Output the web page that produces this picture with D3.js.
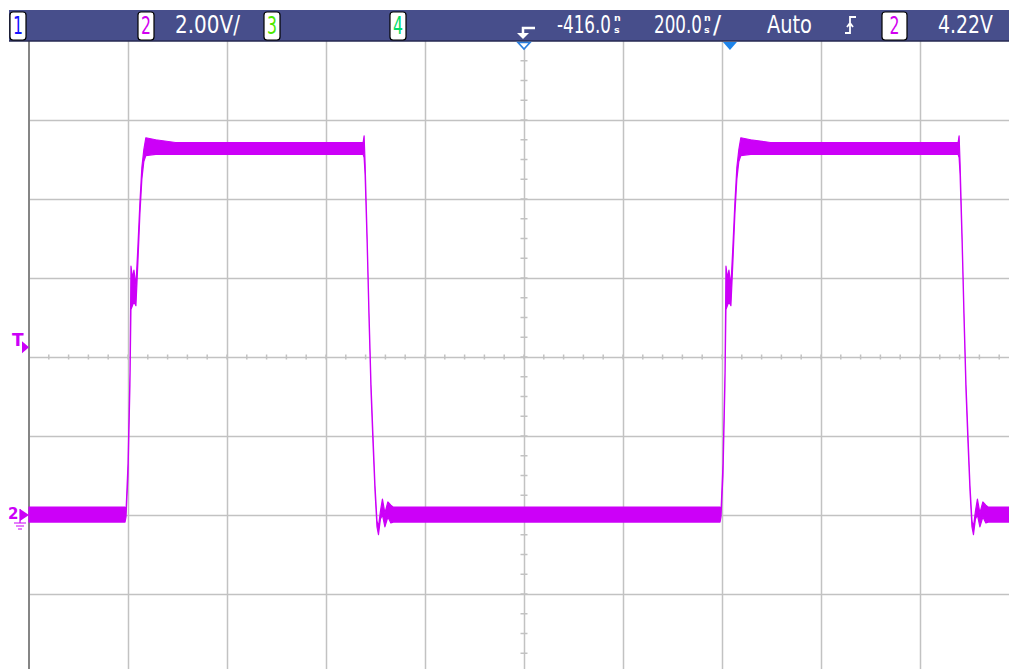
<!DOCTYPE html>
<html>
<head>
<meta charset="utf-8">
<script src="https://cdn.jsdelivr.net/npm/d3@7"></script>
<style>
  html, body { margin: 0; padding: 0; background: #ffffff; }
  svg { display: block; }
</style>
</head>
<body>
<svg id="scope" width="1009" height="669"></svg>
<script>
// ---- Acquisition settings ----
const timePerDiv = 200;      // ns / div
const timeOffset = -416;     // ns at screen centre
const voltsPerDiv = 2;       // V / div
const trigLevel = 4.22;      // V
const hDivs = 10, vDivs = 8;

// ---- Status bar labels ----
const channelLabels = ["1", "2", "3", "4"];
const channelColors = ["#1414ff", "#d200f0", "#4ee800", "#00dc6a"];
const scaleLabel = "2.00V/";
const delayLabel = "-416.0";
const timebaseLabel = "200.0";
const modeLabel = "Auto";
const trigSourceLabel = "2";
const trigLevelLabel = "4.22V";

// ---- Channel 2 trace: time (ns), envelope min / max (V) ----
const traceTime = [
  -1416, -1222, -1220, -1216, -1212, -1210, -1207, -1204, -1200, -1196,
  -1192, -1188, -1184, -1180, -1160, -1120, -741, -739, -737, -733,
  -729, -725, -721, -717, -713, -710, -706, -702, -697, -691,
  -685, -680, -20, -18, -14, -10, -8, -5, -2, 2,
  6, 10, 14, 18, 22, 42, 82, 461, 463, 465,
  469, 473, 477, 481, 485, 489, 492, 496, 500, 505,
  511, 517, 522, 584
];
const traceMin = [
  -0.18, -0.18, -0.05, 1.0, 3.3, 5.2, 5.3, 5.4, 5.3, 6.4,
  7.6, 8.5, 8.95, 9.1, 9.13, 9.13, 9.13, 9.05, 8.6, 6.9,
  4.9, 3.1, 1.8, 0.6, -0.3, -0.5, -0.1, 0.0, -0.3, -0.05,
  -0.2, -0.18, -0.18, -0.05, 1.0, 3.3, 5.2, 5.3, 5.4, 5.3,
  6.4, 7.6, 8.5, 8.95, 9.1, 9.13, 9.13, 9.13, 9.05, 8.6,
  6.9, 4.9, 3.1, 1.8, 0.6, -0.3, -0.5, -0.1, 0.0, -0.3,
  -0.05, -0.2, -0.18, -0.18
];
const traceMax = [
  0.2, 0.2, 0.1, 1.3, 3.6, 6.3, 6.0, 6.2, 5.8, 6.8,
  7.9, 8.8, 9.25, 9.55, 9.5, 9.43, 9.43, 9.6, 8.9, 7.1,
  5.1, 3.3, 2.0, 0.75, -0.15, -0.3, 0.1, 0.4, 0.05, 0.33,
  0.25, 0.2, 0.2, 0.1, 1.3, 3.6, 6.3, 6.0, 6.2, 5.8,
  6.8, 7.9, 8.8, 9.25, 9.55, 9.5, 9.43, 9.43, 9.6, 8.9,
  7.1, 5.1, 3.3, 2.0, 0.75, -0.15, -0.3, 0.1, 0.4, 0.05,
  0.33, 0.25, 0.2, 0.2
];

// ---- Layout ----
const plot = { left: 29, top: 41, width: 990, height: 632 };
const svg = d3.select("#scope");

const tStart = timeOffset - timePerDiv * hDivs / 2;
const tEnd = timeOffset + timePerDiv * hDivs / 2;
const vBottom = -voltsPerDiv * 2;
const vTop = vBottom + voltsPerDiv * vDivs;

const x = d3.scaleLinear().domain([tStart, tEnd]).range([plot.left, plot.left + plot.width]);
const y = d3.scaleLinear().domain([vBottom, vTop]).range([plot.top + plot.height, plot.top]);

const gridColor = "#c2c2c2";
const traceColor = "#cc00f8";

// ---- Graticule ----
const xGrid = d3.range(1, hDivs).map(i => tStart + i * timePerDiv);
const yGrid = d3.range(1, vDivs).map(i => vBottom + i * voltsPerDiv);

svg.append("g")
  .attr("transform", `translate(0,${plot.top + plot.height})`)
  .call(d3.axisBottom(x).tickValues(xGrid).tickSize(plot.height).tickFormat(""))
  .call(g => g.select(".domain").remove())
  .call(g => g.selectAll("line").attr("y2", -plot.height).attr("stroke", gridColor).attr("stroke-width", 1.5));

svg.append("g")
  .attr("transform", `translate(${plot.left},0)`)
  .call(d3.axisLeft(y).tickValues(yGrid).tickSize(-plot.width).tickFormat(""))
  .call(g => g.select(".domain").remove())
  .call(g => g.selectAll("line").attr("stroke", gridColor).attr("stroke-width", 1.5));

// minor ticks along the centre lines
const xc = x(timeOffset), yc = y(vBottom + voltsPerDiv * vDivs / 2);
const xMinor = d3.range(0, hDivs * 5 + 1).map(i => tStart + i * timePerDiv / 5);
const yMinor = d3.range(0, vDivs * 4 + 1).map(i => vBottom + i * voltsPerDiv / 4);
svg.append("g").selectAll("line").data(xMinor).join("line")
  .attr("x1", d => x(d)).attr("x2", d => x(d))
  .attr("y1", yc - 2.5).attr("y2", yc + 2.5)
  .attr("stroke", gridColor).attr("stroke-width", 1.5);
svg.append("g").selectAll("line").data(yMinor).join("line")
  .attr("y1", d => y(d)).attr("y2", d => y(d))
  .attr("x1", xc - 3.5).attr("x2", xc + 3.5)
  .attr("stroke", gridColor).attr("stroke-width", 1.5);

// left border of the graticule
svg.append("line")
  .attr("x1", plot.left).attr("x2", plot.left)
  .attr("y1", plot.top).attr("y2", plot.top + plot.height)
  .attr("stroke", "#858585").attr("stroke-width", 2);

// ---- Trace ----
const trace = traceTime.map((t, i) => ({ t, lo: traceMin[i], hi: traceMax[i] }));
const area = d3.area().x(d => x(d.t)).y0(d => y(d.lo)).y1(d => y(d.hi));
svg.append("path")
  .datum(trace)
  .attr("d", area)
  .attr("fill", traceColor)
  .attr("stroke", traceColor)
  .attr("stroke-width", 1.2)
  .attr("stroke-linejoin", "round");

// ---- Status bar ----
const bar = svg.append("g");
bar.append("rect").attr("x", 9).attr("y", 10).attr("width", 1000).attr("height", 31).attr("fill", "#474e8b");
bar.append("line").attr("x1", 9).attr("x2", 1009).attr("y1", 41).attr("y2", 41).attr("stroke", "#262a52").attr("stroke-width", 1.5);

const font = "'DejaVu Sans', sans-serif";

// text squeezed horizontally to a target width (condensed instrument font)
function squeezed(txt, x0, y0, width, size, color, anchor) {
  const t = bar.append("text").attr("x", 0).attr("y", 0)
    .attr("font-family", font).attr("font-size", size)
    .attr("fill", color).text(txt);
  const natural = t.node().getComputedTextLength();
  const sx = width / natural;
  const left = anchor === "middle" ? x0 - width / 2 : x0;
  t.attr("transform", `translate(${left},${y0}) scale(${sx},1)`);
  return t;
}
function label(txt, x0, width) {
  squeezed(txt, x0, 33, width, 24, "#ffffff");
}
function chanBox(txt, x0, w, color) {
  bar.append("rect").attr("x", x0).attr("y", 12).attr("width", w).attr("height", 28)
    .attr("rx", 3).attr("fill", "#ffffff").attr("stroke", "#000000").attr("stroke-width", 1.2);
  squeezed(txt, x0 + w / 2, 34, 10, 24, color, "middle");
}
const boxX = [10, 138, 264, 390];
channelLabels.forEach((c, i) => chanBox(c, boxX[i], 16, channelColors[i]));

label(scaleLabel, 175, 65);
label(delayLabel, 557, 54);
label(timebaseLabel, 654, 48);
label(modeLabel, 767, 45);
label(trigLevelLabel, 938, 55);
chanBox(trigSourceLabel, 882, 25, channelColors[1]);

// stacked "ns" unit marks
function nsUnit(x0) {
  bar.append("text").attr("x", x0).attr("y", 21).attr("font-family", font).attr("font-size", 9.5)
    .attr("font-weight", "bold").attr("fill", "#ffffff").text("n");
  bar.append("text").attr("x", x0).attr("y", 33).attr("font-family", font).attr("font-size", 9.5)
    .attr("font-weight", "bold").attr("fill", "#ffffff").text("s");
}
nsUnit(614);
nsUnit(704);
bar.append("text").attr("x", 713).attr("y", 33).attr("font-family", font).attr("font-size", 24)
  .attr("fill", "#ffffff").text("/");

// rising-edge trigger symbol
bar.append("path").attr("d", "M845,33 H850 V17 H856 M847,27 L850,23 L853,27")
  .attr("fill", "none").attr("stroke", "#ffffff").attr("stroke-width", 1.8);

// delay reference marker
bar.append("path").attr("d", "M535,28 H523 V34").attr("fill", "none").attr("stroke", "#ffffff").attr("stroke-width", 2.5);
bar.append("path").attr("d", "M517,33 L529,33 L523,39 Z").attr("fill", "#ffffff");

// ---- Markers below the status bar ----
svg.append("path").attr("d", `M${xc - 6},42.5 L${xc + 6},42.5 L${xc},49 Z`)
  .attr("fill", "#ffffff").attr("stroke", "#2a7fe0").attr("stroke-width", 1.6);
svg.append("path").attr("d", `M${x(0) - 7},42 L${x(0) + 7},42 L${x(0)},50 Z`).attr("fill", "#1e84ea");

// trigger level marker
const yT = y(trigLevel);
svg.append("text").attr("x", 12).attr("y", yT - 2).attr("font-family", font).attr("font-size", 17)
  .attr("font-weight", "bold").attr("fill", traceColor).text("T");
svg.append("path").attr("d", `M22,${yT - 7} L29,${yT - 1} L22,${yT + 5} Z`).attr("fill", traceColor);

// channel 2 ground marker
const yG = y(0);
svg.append("text").attr("x", 8).attr("y", yG + 4).attr("font-family", font).attr("font-size", 15)
  .attr("font-weight", "bold").attr("fill", traceColor).text("2");
svg.append("path").attr("d", `M20,${yG - 6} L29,${yG} L20,${yG + 6} Z`).attr("fill", traceColor);
svg.append("path")
  .attr("d", `M20,${yG - 6} V${yG + 8} M14,${yG + 8} H26 M16,${yG + 11} H24 M18,${yG + 14} H22`)
  .attr("fill", "none").attr("stroke", traceColor).attr("stroke-width", 1.2);
</script>
</body>
</html>
